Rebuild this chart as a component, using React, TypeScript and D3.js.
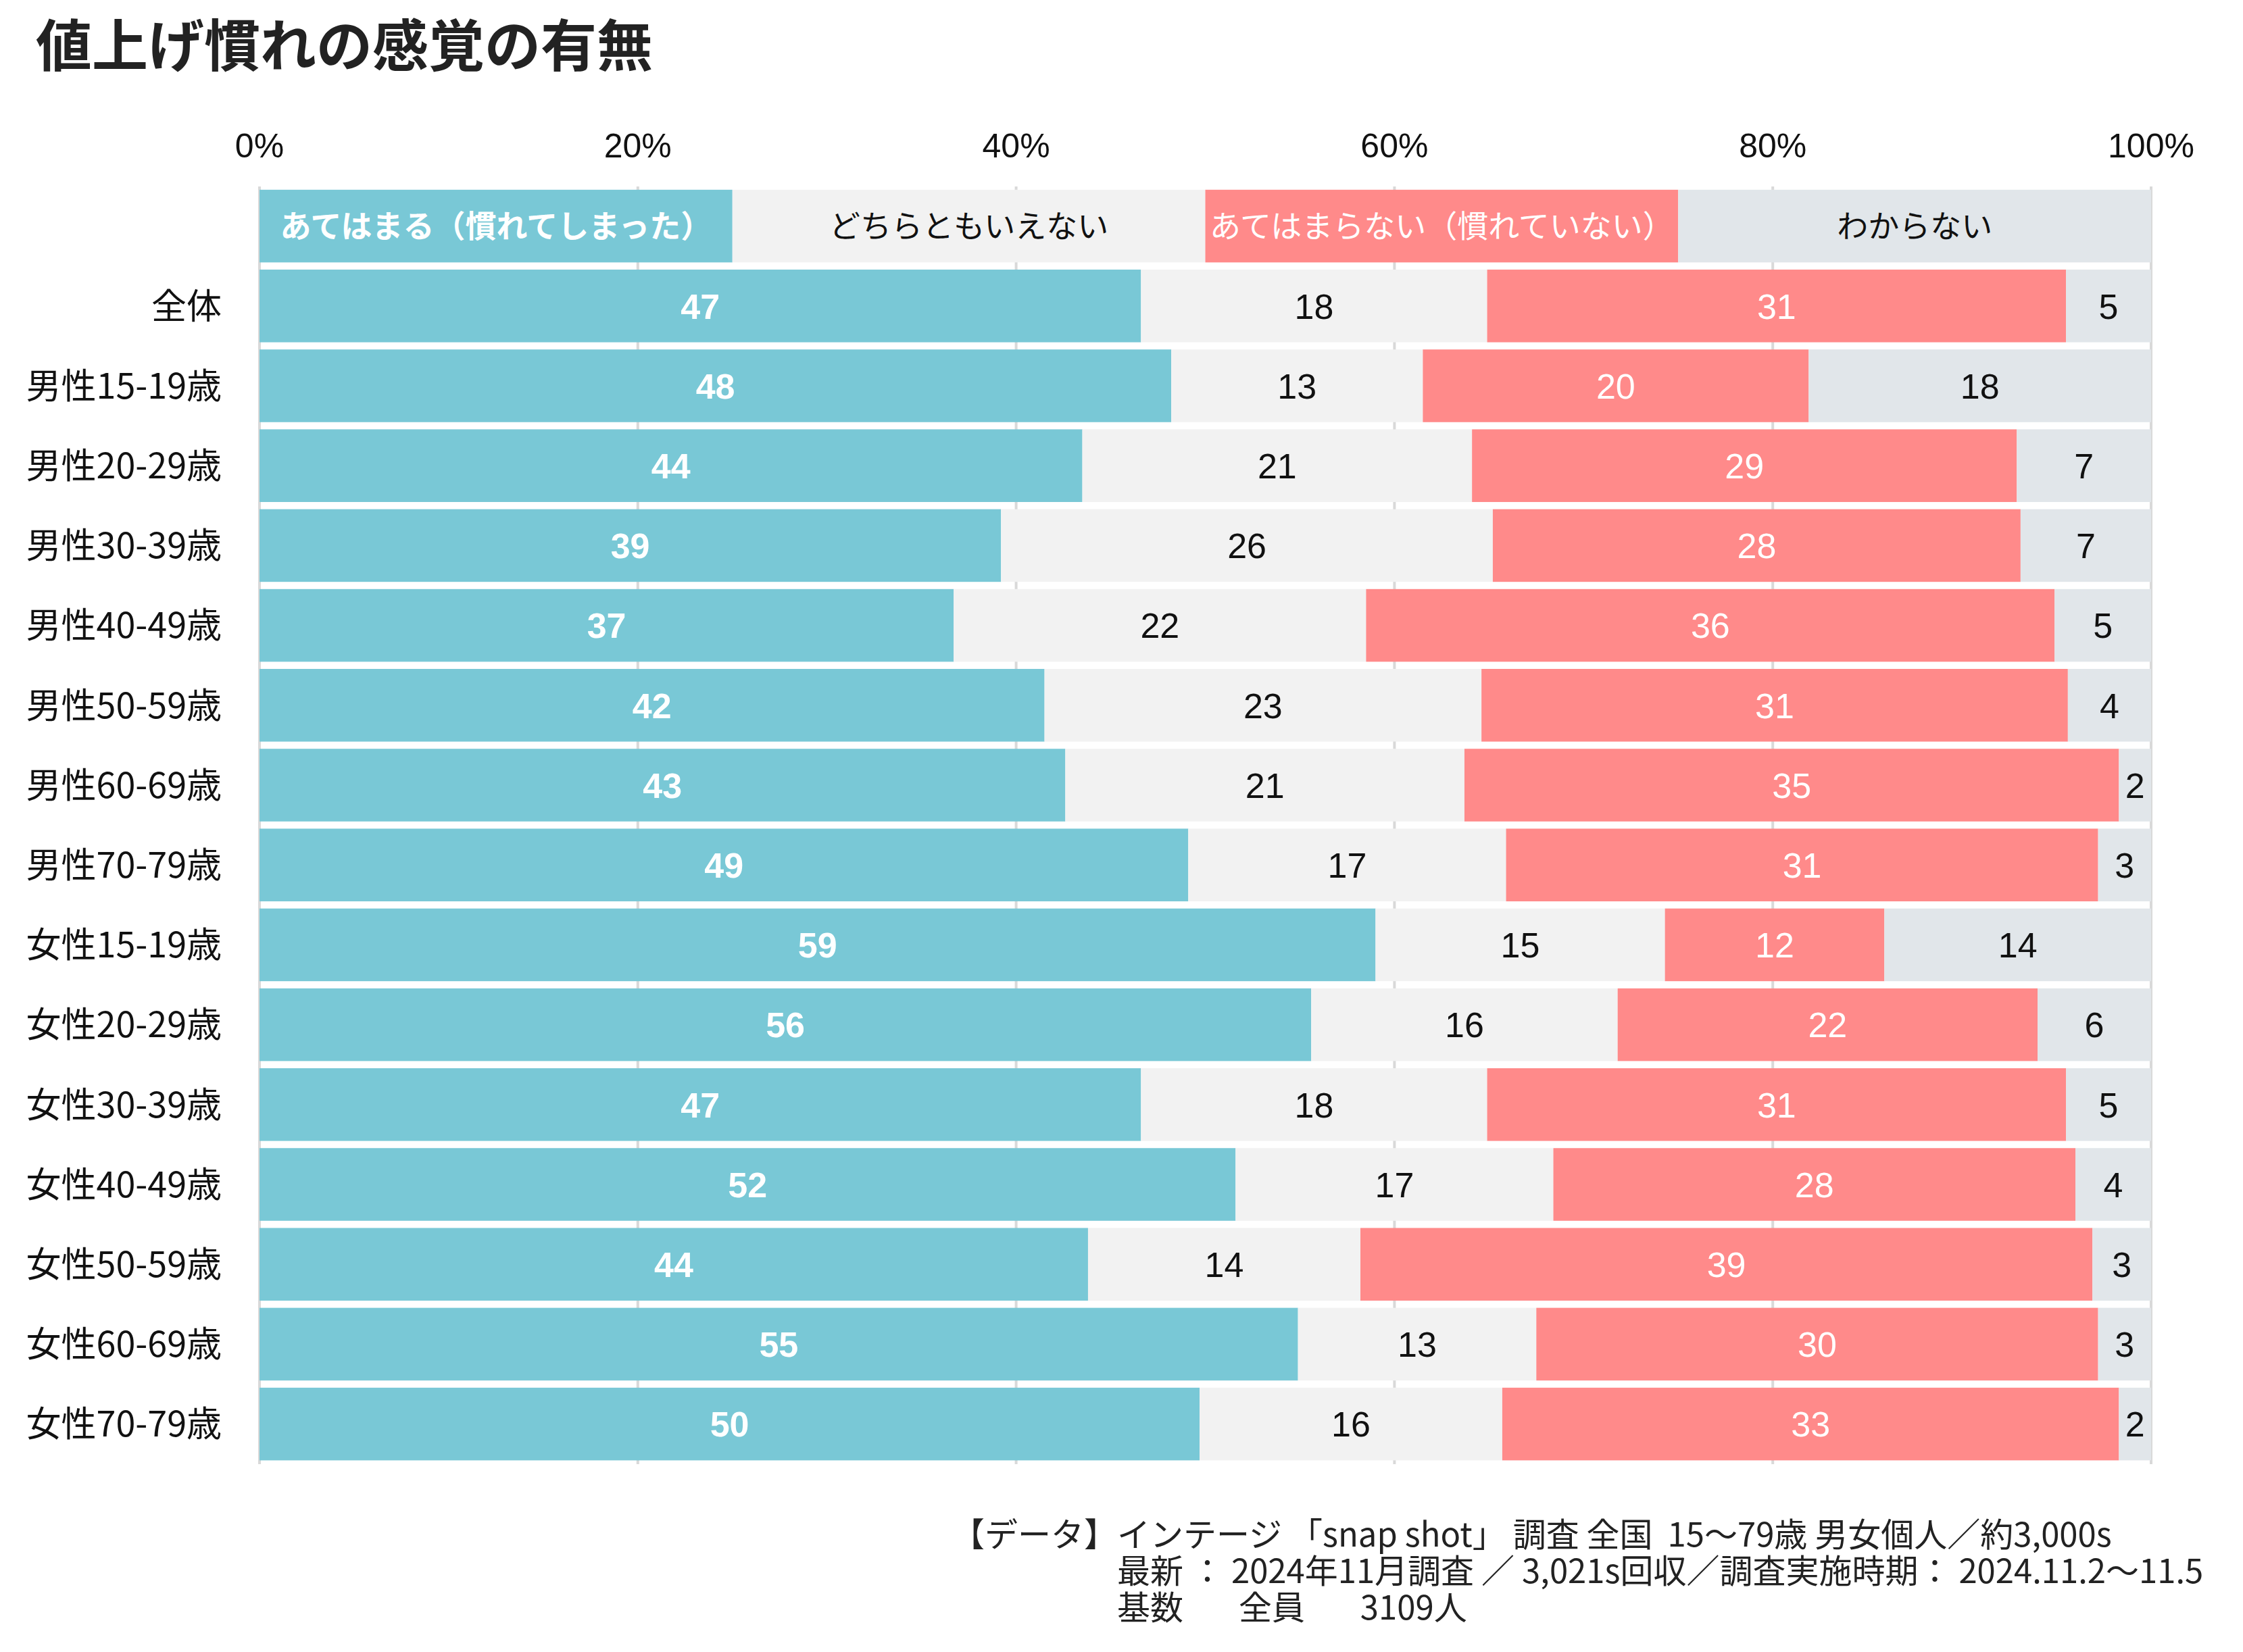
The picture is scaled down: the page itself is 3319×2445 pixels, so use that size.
import React from "react";
import * as d3 from "d3";

const categories = [
  "全体",
  "男性15-19歳",
  "男性20-29歳",
  "男性30-39歳",
  "男性40-49歳",
  "男性50-59歳",
  "男性60-69歳",
  "男性70-79歳",
  "女性15-19歳",
  "女性20-29歳",
  "女性30-39歳",
  "女性40-49歳",
  "女性50-59歳",
  "女性60-69歳",
  "女性70-79歳",
];

const seriesNames = [
  "あてはまる（慣れてしまった）",
  "どちらともいえない",
  "あてはまらない（慣れていない）",
  "わからない",
];

const applies = [46.6, 48.2, 43.5, 39.2, 36.7, 41.5, 42.6, 49.1, 59.0, 55.6, 46.6, 51.6, 43.8, 54.9, 49.7];
const neutral = [18.3, 13.3, 20.6, 26.0, 21.8, 23.1, 21.1, 16.8, 15.3, 16.2, 18.3, 16.8, 14.4, 12.6, 16.0];
const notApply = [30.6, 20.4, 28.8, 27.9, 36.4, 31.0, 34.6, 31.3, 11.6, 22.2, 30.6, 27.6, 38.7, 29.7, 32.6];
const unknown = [4.5, 18.1, 7.1, 6.9, 5.1, 4.4, 1.7, 2.8, 14.1, 6.0, 4.5, 4.0, 3.1, 2.8, 1.7];

const tickValues = [0, 20, 40, 60, 80, 100];
const tickLabels = ["0%", "20%", "40%", "60%", "80%", "100%"];

const titleText = "値上げ慣れの感覚の有無";
const noteHead = "【データ】";
const noteLines = [
  "インテージ 「snap shot」 調査 全国  15～79歳 男女個人／約3,000s",
  "最新 ： 2024年11月調査 ／ 3,021s回収／調査実施時期： 2024.11.2～11.5",
  "基数\u3000   全員\u3000   3109人",
];

const colors = ["#79C8D6", "#F2F2F2", "#FF8A8A", "#E1E6EA"];
const labelColors = ["#FFFFFF", "#111111", "#FFFFFF", "#111111"];
const labelWeights = [700, 400, 400, 400];

const W = 3319;
const H = 2445;
const CJK = "'Noto Sans CJK JP', 'Noto Sans', sans-serif";
const NUM = "'Liberation Sans', Arial, sans-serif";

export default function App() {
  const keys = ["a", "b", "c", "d"];
  const rows = categories.map((c, i) => ({
    cat: c,
    a: applies[i],
    b: neutral[i],
    c: notApply[i],
    d: unknown[i],
  }));
  const stacked = d3.stack<any>().keys(keys)(rows);

  const x = d3.scaleLinear().domain([0, 100]).range([384, 3183]);
  const yDomain = ["__legend__", ...categories];
  const y = d3
    .scaleBand<string>()
    .domain(yDomain)
    .range([275.5, 2166.7])
    .paddingInner(0.09)
    .paddingOuter(0.045);
  const bw = y.bandwidth();

  const legendY = y("__legend__") as number;

  return (
    <div style={{ position: "absolute", left: 0, top: 0 }}>
      <svg width={W} height={H} viewBox={`0 0 ${W} ${H}`} style={{ display: "block", background: "#fff" }}>
        <rect x={0} y={0} width={W} height={H} fill="#fff" />
        <text x={53} y={98} fontFamily={CJK} fontWeight={700} fontSize={83} fill="#222">
          {titleText}
        </text>

        {/* tick labels */}
        {tickValues.map((t, i) => (
          <text
            key={"tl" + t}
            x={x(t)}
            y={233}
            textAnchor="middle"
            fontFamily={NUM}
            fontSize={50}
            fill="#111"
          >
            {tickLabels[i]}
          </text>
        ))}

        {/* grid lines */}
        {tickValues.map((t) => (
          <line
            key={"g" + t}
            x1={x(t)}
            x2={x(t)}
            y1={276}
            y2={2167}
            stroke="#D9D9D9"
            strokeWidth={4}
          />
        ))}

        {/* legend row */}
        {seriesNames.map((n, i) => {
          const x0 = x(i * 25);
          const x1 = x((i + 1) * 25);
          return (
            <g key={"lg" + i}>
              <rect x={x0} y={legendY} width={x1 - x0} height={bw} fill={colors[i]} />
              <text
                x={(x0 + x1) / 2}
                y={legendY + bw / 2}
                dy="0.36em"
                textAnchor="middle"
                fontFamily={CJK}
                fontSize={46}
                fontWeight={labelWeights[i]}
                fill={labelColors[i]}
              >
                {n}
              </text>
            </g>
          );
        })}

        {/* bars */}
        {stacked.map((s, si) => (
          <g key={"s" + si}>
            {s.map((d, di) => {
              const yy = y(categories[di]) as number;
              const x0 = x(d[0]);
              const x1 = x(d[1]);
              return (
                <g key={"b" + si + "-" + di}>
                  <rect x={x0} y={yy} width={x1 - x0} height={bw} fill={colors[si]} />
                  <text
                    x={(x0 + x1) / 2}
                    y={yy + bw / 2}
                    dy="0.36em"
                    textAnchor="middle"
                    fontFamily={NUM}
                    fontSize={52}
                    fontWeight={labelWeights[si]}
                    fill={labelColors[si]}
                  >
                    {Math.round(d[1] - d[0])}
                  </text>
                </g>
              );
            })}
          </g>
        ))}

        {/* category labels */}
        {categories.map((c) => (
          <text
            key={"c" + c}
            x={328}
            y={(y(c) as number) + bw / 2}
            dy="0.36em"
            textAnchor="end"
            fontFamily={CJK}
            fontSize={52}
            fill="#111"
          >
            {c}
          </text>
        ))}

        {/* footnote */}
        <g fontFamily={CJK} fontSize={49} fill="#222">
          <text x={1408} y={2289} xmlSpace="preserve" style={{ whiteSpace: "pre" }}>
            {noteHead}
          </text>
          {noteLines.map((l, i) => (
            <text key={"n" + i} x={1653} y={2289 + i * 54} xmlSpace="preserve" style={{ whiteSpace: "pre" }}>
              {l}
            </text>
          ))}
        </g>
      </svg>
    </div>
  );
}
